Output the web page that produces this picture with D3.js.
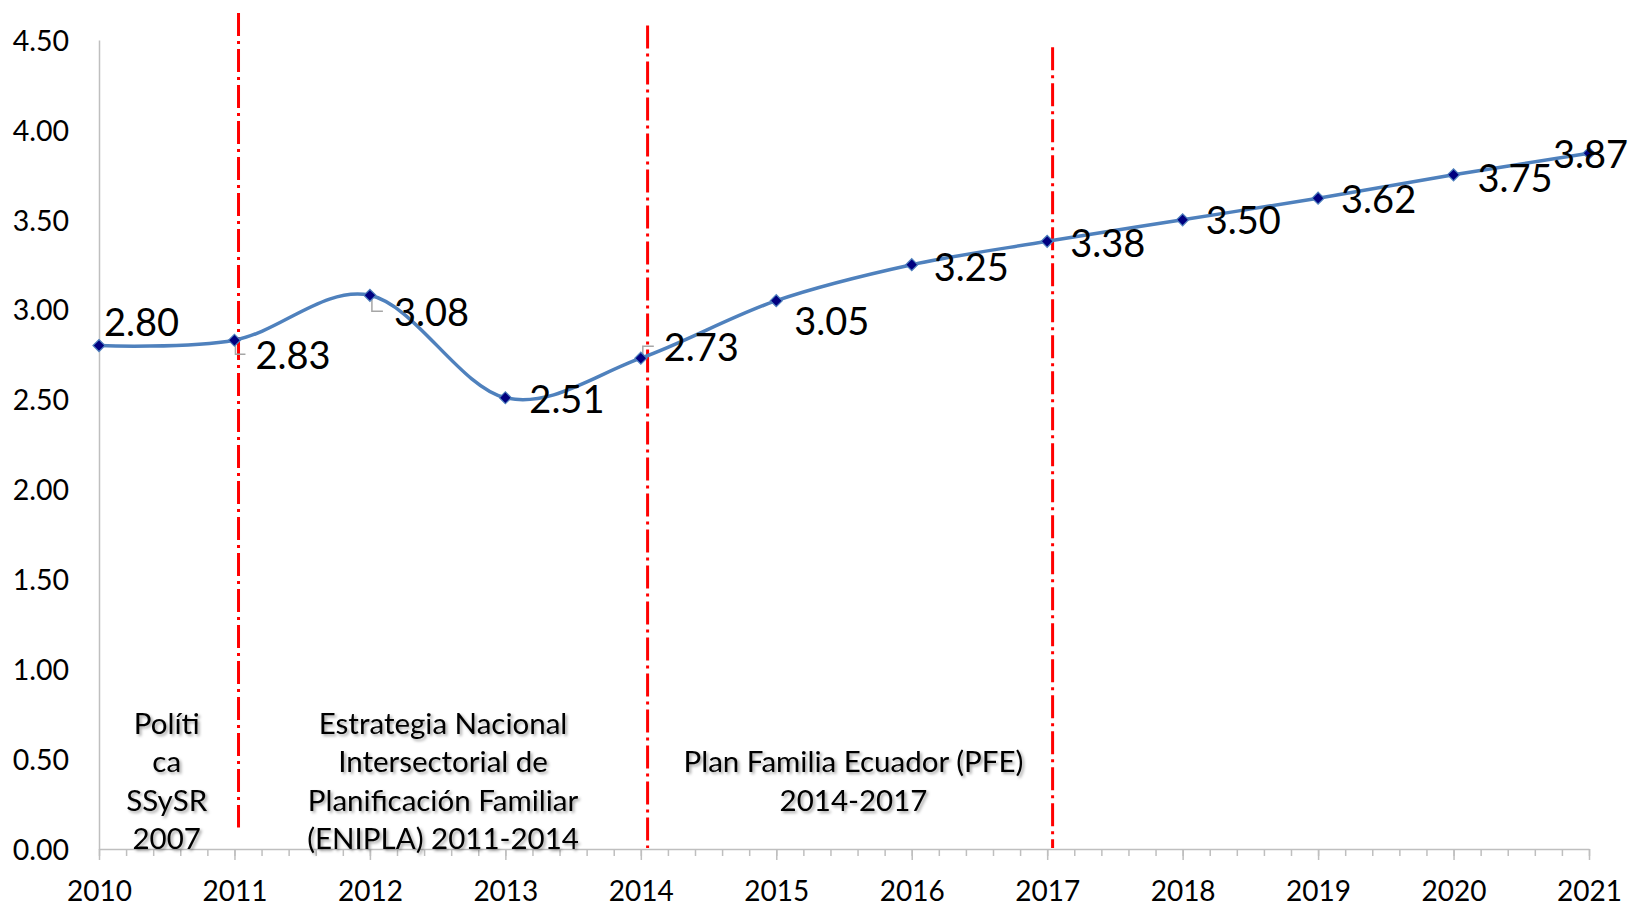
<!DOCTYPE html>
<html>
<head>
<meta charset="utf-8">
<script src="https://cdn.jsdelivr.net/npm/d3@7"></script>
<style>
    body { margin: 0; background: #fff; }
    svg text { font-family: Lato, "Open Sans", sans-serif; fill: #000; }
</style>
</head>
<body>
<div id="chart"></div>
<script>
    // data
    var years = [2010, 2011, 2012, 2013, 2014, 2015, 2016, 2017, 2018, 2019, 2020, 2021];
    var values = [2.80, 2.83, 3.08, 2.51, 2.73, 3.05, 3.25, 3.38, 3.50, 3.62, 3.75, 3.87];
    var yTicks = [0, 0.5, 1, 1.5, 2, 2.5, 3, 3.5, 4, 4.5];

    // policy periods (separator lines and captions)
    var periodYears = [2011.03, 2014.05, 2017.04];
    var periodTops = [4.65, 4.58, 4.46];
    var periodBottoms = [0.12, 0.005, 0.005];
    var captionLines = [
        ["Políti", "ca", "SSySR", "2007"],
        ["Estrategia Nacional", "Intersectorial de", "Planificación Familiar", "(ENIPLA) 2011-2014"],
        ["Plan Familia Ecuador (PFE)", "2014-2017"]
    ];
    var captionCenters = [2010.5, 2012.54, 2015.57];

    // label placement (px offsets from the point) and leader lines
    var labelOffsets = [
        [5, -23], [21, 15], [24, 17], [24, 2], [23, -11], [18, 21],
        [22, 3], [23, 2], [23, 1], [23, 1], [24, 3], [-36, 1]
    ];
    var leaders = {
        1: "M1,5V14H11",
        2: "M2,4V16H13",
        4: "M2,-2V-12H13"
    };

    var width = 1635, height = 907;

    var svg = d3.select("#chart").append("svg")
        .attr("width", width)
        .attr("height", height);

    svg.append("rect").attr("width", width).attr("height", height).attr("fill", "#fff");

    var defs = svg.append("defs");
    defs.append("filter")
        .attr("id", "shadow")
        .attr("x", "-10%").attr("y", "-30%").attr("width", "120%").attr("height", "160%")
        .append("feDropShadow")
        .attr("dx", 2).attr("dy", 2)
        .attr("stdDeviation", 1.6)
        .attr("flood-color", "#000")
        .attr("flood-opacity", 0.35);

    var x = d3.scaleLinear().domain([2010, 2021]).range([99, 1589]);
    var y = d3.scaleLinear().domain([0, 4.5]).range([849, 40]);

    // y axis
    var yAxis = svg.append("g")
        .attr("transform", "translate(99,0)")
        .call(d3.axisLeft(y).tickValues(yTicks).tickSize(0).tickSizeOuter(0)
            .tickPadding(30).tickFormat(d3.format(".2f")));
    yAxis.select(".domain").attr("stroke", "#bfbfbf").attr("stroke-width", 1.5);
    yAxis.selectAll("text").attr("font-size", 28.5).attr("dy", "0.36em");

    // x axis: minor then major ticks
    var minor = svg.append("g")
        .attr("transform", "translate(0,849)")
        .call(d3.axisBottom(x).tickValues(d3.range(0, 56).map(function (i) { return 2010 + i / 5; }))
            .tickSize(7).tickSizeOuter(0).tickFormat(""));
    minor.select(".domain").remove();
    minor.selectAll("line").attr("stroke", "#bfbfbf").attr("stroke-width", 1.5);

    var xAxis = svg.append("g")
        .attr("transform", "translate(0,849)")
        .call(d3.axisBottom(x).tickValues(years).tickSize(11).tickSizeOuter(0)
            .tickPadding(21).tickFormat(d3.format("d")));
    xAxis.select(".domain").attr("stroke", "#bfbfbf").attr("stroke-width", 1.5);
    xAxis.selectAll("line").attr("stroke", "#bfbfbf").attr("stroke-width", 1.5);
    xAxis.selectAll("text").attr("font-size", 28);

    // period separators
    svg.selectAll(".sep")
        .data(periodYears)
        .enter().append("line")
        .attr("class", "sep")
        .attr("x1", function (d) { return x(d); })
        .attr("x2", function (d) { return x(d); })
        .attr("y1", function (d, i) { return y(periodTops[i]); })
        .attr("y2", function (d, i) { return y(periodBottoms[i]); })
        .attr("stroke", "#ff0000")
        .attr("stroke-width", 3)
        .attr("stroke-dasharray", "23,5,3,5");

    // period captions
    var lineH = 38.5;
    svg.selectAll(".caption")
        .data(captionLines)
        .enter().append("text")
        .attr("class", "caption")
        .attr("filter", "url(#shadow)")
        .attr("text-anchor", "middle")
        .attr("font-size", 29.5)
        .each(function (lines, i) {
            var t = d3.select(this);
            var cy = y(0.38) - (lines.length - 1) * lineH / 2;
            lines.forEach(function (s, k) {
                t.append("tspan")
                    .attr("x", x(captionCenters[i]))
                    .attr("y", cy + k * lineH)
                    .attr("dy", "0.36em")
                    .text(s);
            });
        });

    // series
    var pts = years.map(function (yr, i) { return { year: yr, value: values[i], i: i }; });

    var line = d3.line()
        .x(function (d) { return x(d.year); })
        .y(function (d) { return y(d.value); })
        .curve(d3.curveCardinal.tension(0));

    svg.append("path")
        .datum(pts)
        .attr("fill", "none")
        .attr("stroke", "#4f81bd")
        .attr("stroke-width", 3.5)
        .attr("d", line);

    svg.selectAll(".leader")
        .data(pts.filter(function (d) { return leaders[d.i]; }))
        .enter().append("path")
        .attr("class", "leader")
        .attr("fill", "none")
        .attr("stroke", "#a6a6a6")
        .attr("stroke-width", 1.5)
        .attr("transform", function (d) { return "translate(" + x(d.year) + "," + y(d.value) + ")"; })
        .attr("d", function (d) { return leaders[d.i]; });

    var diamond = d3.symbol().type(d3.symbolSquare).size(72);
    svg.selectAll(".marker")
        .data(pts)
        .enter().append("path")
        .attr("class", "marker")
        .attr("d", diamond)
        .attr("transform", function (d) { return "translate(" + x(d.year) + "," + y(d.value) + ") rotate(45)"; })
        .attr("fill", "#000080")
        .attr("stroke", "#4f81bd")
        .attr("stroke-width", 1.2);

    svg.selectAll(".label")
        .data(pts)
        .enter().append("text")
        .attr("class", "label")
        .attr("x", function (d) { return x(d.year) + labelOffsets[d.i][0]; })
        .attr("y", function (d) { return y(d.value) + labelOffsets[d.i][1]; })
        .attr("dy", "0.36em")
        .attr("font-size", 38)
        .text(function (d) { return d.value.toFixed(2); });
</script>
</body>
</html>
